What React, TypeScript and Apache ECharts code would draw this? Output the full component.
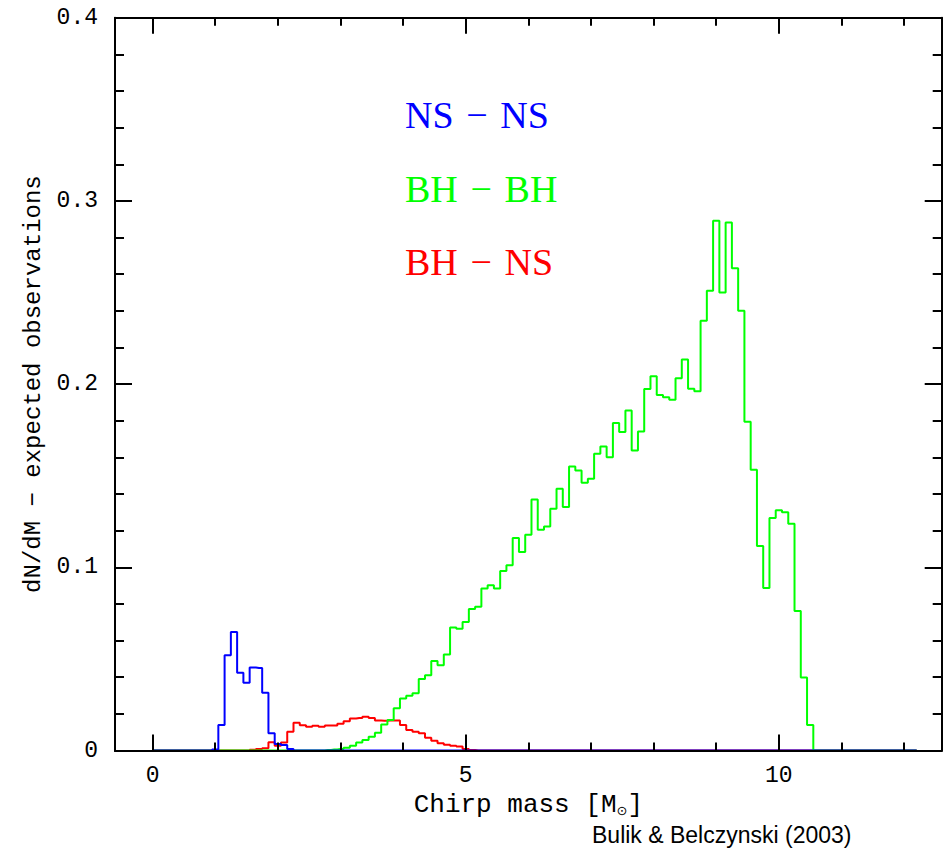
import React, { useEffect, useRef } from "react";
import * as echarts from "echarts";

// ---- data (histograms, bin width 0.1 Msun, values at bin centres) ----
const BIN_WIDTH = 0.1;

const nsnsStart = 0.9;
const nsnsValues = [0, 0.0005, 0.0139, 0.052, 0.0647, 0.0424, 0.037, 0.0453, 0.045, 0.0315, 0.0094, 0.0035, 0.003, 0.0008, 0];

const bhnsStart = 1.5;
const bhnsValues = [
  0, 0.0004, 0.0008, 0.0012, 0.0045, 0.0026, 0.0044, 0.0102, 0.0152, 0.0138,
  0.013, 0.0135, 0.013, 0.0136, 0.0137, 0.0146, 0.016, 0.0175, 0.0178, 0.0184,
  0.0177, 0.0164, 0.0163, 0.0164, 0.0164, 0.0139, 0.0112, 0.0102, 0.0094, 0.007,
  0.0053, 0.0039, 0.0032, 0.0026, 0.0022, 0.0008, 0.0003, 0,
];

const bhbhStart = 2.7;
const bhbhValues = [
  0, 0.0003, 0.0005, 0.0008, 0.0015, 0.0026, 0.0043, 0.0057, 0.0075, 0.0097,
  0.0142, 0.0166, 0.023, 0.0284, 0.0299, 0.0312, 0.039, 0.0411, 0.0488, 0.0466,
  0.0524, 0.0672, 0.0664, 0.0702, 0.0772, 0.0785, 0.0884, 0.0902, 0.0884, 0.098,
  0.1011, 0.116, 0.1084, 0.1178, 0.137, 0.1205, 0.1223, 0.132, 0.1429, 0.1329,
  0.155, 0.1529, 0.1461, 0.1483, 0.162, 0.1659, 0.1601, 0.1788, 0.1738, 0.1856,
  0.1638, 0.1741, 0.1973, 0.2043, 0.1941, 0.1928, 0.1915, 0.2032, 0.2134, 0.1974,
  0.1961, 0.2346, 0.251, 0.2891, 0.25, 0.2882, 0.2633, 0.2401, 0.1794, 0.1532,
  0.1116, 0.0887, 0.1269, 0.1311, 0.1301, 0.1238, 0.0762, 0.0399, 0.0139, 0,
];

const baselineFrom = 0;
const baselineTo = 12.2;

const xMajorTicks = [0, 5, 10];
const xMinorTicks = [1, 2, 3, 4, 6, 7, 8, 9, 11, 12];

const SP = "\u2004";
const seriesNames = ["NS" + SP + "\u2212" + SP + "NS", "BH" + SP + "\u2212" + SP + "BH", "BH" + SP + "\u2212" + SP + "NS"];
const seriesColors = ["#0000ff", "#00ff00", "#ff0000"];

function histPoints(start: number, values: number[]) {
  const pts: number[][] = [[baselineFrom, 0]];
  values.forEach((v, i) => {
    pts.push([Math.round((start + i * BIN_WIDTH) * 100) / 100, v]);
  });
  pts.push([baselineTo, 0]);
  return pts;
}

const FONT = "Liberation Mono";
const black = "#000";
const lineStyle = { color: black, width: 2 };

function xAxisDef(position: string, ticks: number[], len: number, labels: boolean, withName: boolean) {
  return {
    type: "value",
    min: -0.6,
    max: 12.6,
    position,
    z: 5,
    axisLine: { show: true, onZero: false, lineStyle },
    axisTick: { show: true, inside: true, length: len, customValues: ticks, lineStyle },
    axisLabel: {
      show: labels,
      customValues: ticks,
      margin: 14,
      color: black,
      fontFamily: FONT,
      fontSize: 23,
    },
    splitLine: { show: false },
    ...(withName
      ? {
          name: "Chirp mass [M{sub|\u2299}]",
          nameLocation: "middle",
          nameGap: 40,
          nameTextStyle: {
            color: black,
            fontFamily: FONT,
            fontSize: 26,
            lineHeight: 24,
            rich: {
              sub: {
                fontFamily: "DejaVu Sans",
                fontSize: 13,
                lineHeight: 10,
                verticalAlign: "bottom",
                color: black,
              },
            },
          },
        }
      : {}),
  };
}

function yAxisDef(position: string, labels: boolean, withName: boolean) {
  return {
    type: "value",
    min: 0,
    max: 0.4,
    interval: 0.1,
    position,
    z: 5,
    axisLine: { show: true, onZero: false, lineStyle },
    axisTick: { show: true, inside: true, length: 17, lineStyle },
    minorTick: { show: true, splitNumber: 5, length: 9, lineStyle },
    axisLabel: {
      show: labels,
      margin: 17,
      color: black,
      fontFamily: FONT,
      fontSize: 23,
      formatter: (v: number) => (v === 0 ? "0" : String(Math.round(v * 10) / 10)),
    },
    splitLine: { show: false },
    minorSplitLine: { show: false },
    ...(withName
      ? {
          name: "dN/dM \u2212 expected observations",
          nameLocation: "middle",
          nameGap: 70,
          nameTextStyle: { color: black, fontFamily: FONT, fontSize: 24 },
        }
      : {}),
  };
}

export default function App() {
  const ref = useRef<HTMLDivElement>(null);

  useEffect(() => {
    if (!ref.current) return;
    const chart = echarts.init(ref.current, undefined, { renderer: "svg" });

    const mkSeries = (name: string, color: string, data: number[][]) => ({
      type: "line",
      name,
      xAxisIndex: 0,
      yAxisIndex: 0,
      step: "middle",
      symbol: "none",
      silent: true,
      z: 2,
      lineStyle: { color, width: 2 },
      data,
    });

    const legendText = (i: number, y: number) => ({
      type: "text",
      x: 405,
      y,
      style: {
        text: seriesNames[i],
        fill: seriesColors[i],
        font: '38px "Liberation Serif"',
        verticalAlign: "middle",
      },
    });

    chart.setOption({
      animation: false,
      backgroundColor: "#fff",
      grid: { left: 115, right: 7.3, top: 17.7, bottom: 97.5, containLabel: false },
      xAxis: [
        xAxisDef("bottom", xMajorTicks, 16, true, true),
        xAxisDef("bottom", xMinorTicks, 8, false, false),
        xAxisDef("top", xMajorTicks, 16, false, false),
        xAxisDef("top", xMinorTicks, 8, false, false),
      ],
      yAxis: [yAxisDef("left", true, true), yAxisDef("right", false, false)],
      series: [
        mkSeries(seriesNames[2], seriesColors[2], histPoints(bhnsStart, bhnsValues)),
        mkSeries(seriesNames[1], seriesColors[1], histPoints(bhbhStart, bhbhValues)),
        mkSeries(seriesNames[0], seriesColors[0], histPoints(nsnsStart, nsnsValues)),
      ],
      graphic: [
        legendText(0, 115),
        legendText(1, 188.5),
        legendText(2, 261.5),
        {
          type: "text",
          x: 592,
          y: 835,
          style: {
            text: "Bulik & Belczynski (2003)",
            fill: black,
            font: '23px "Liberation Sans"',
            verticalAlign: "middle",
          },
        },
      ],
    });

    return () => chart.dispose();
  }, []);

  return (
    <div
      ref={ref}
      style={{ position: "absolute", left: 0, top: 0, width: 949, height: 848 }}
    />
  );
}
